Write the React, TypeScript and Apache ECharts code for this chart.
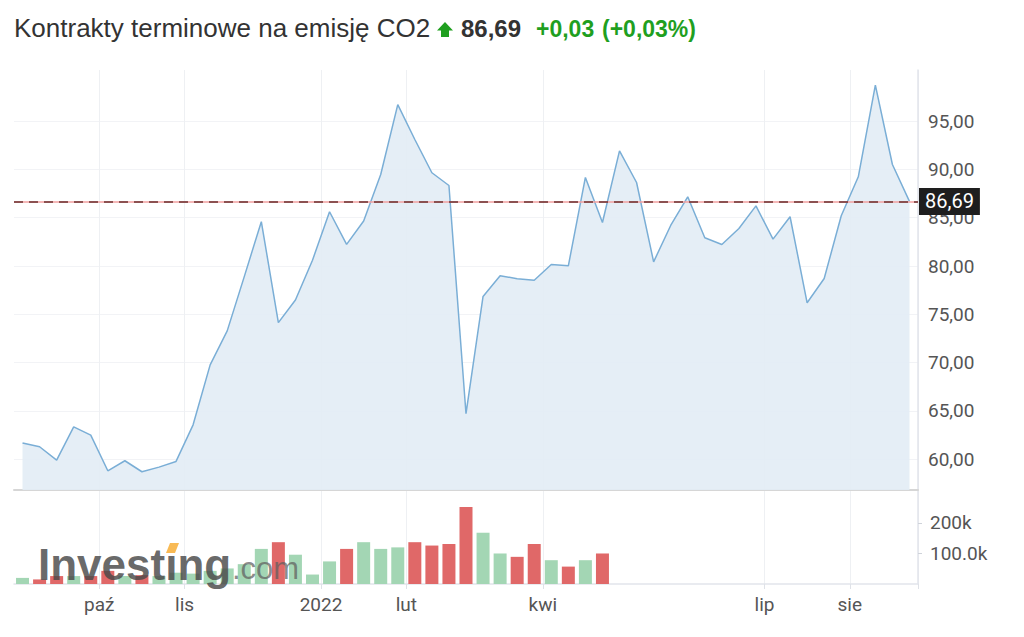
import React, { useEffect, useRef } from 'react';
import * as echarts from 'echarts';

const titleText = 'Kontrakty terminowe na emisję CO2';
const lastPriceText = '86,69';
const changeAbsText = '+0,03';
const changePctText = '(+0,03%)';
const lastPrice = 86.69;

const weekDates = [
  '2021-08-29', '2021-09-05', '2021-09-12', '2021-09-19', '2021-09-26',
  '2021-10-03', '2021-10-10', '2021-10-17', '2021-10-24', '2021-10-31',
  '2021-11-07', '2021-11-14', '2021-11-21', '2021-11-28',
  '2021-12-05', '2021-12-12', '2021-12-19', '2021-12-26',
  '2022-01-02', '2022-01-09', '2022-01-16', '2022-01-23', '2022-01-30',
  '2022-02-06', '2022-02-13', '2022-02-20', '2022-02-27',
  '2022-03-06', '2022-03-13', '2022-03-20', '2022-03-27',
  '2022-04-03', '2022-04-10', '2022-04-17', '2022-04-24',
  '2022-05-01', '2022-05-08', '2022-05-15', '2022-05-22', '2022-05-29',
  '2022-06-05', '2022-06-12', '2022-06-19', '2022-06-26',
  '2022-07-03', '2022-07-10', '2022-07-17', '2022-07-24', '2022-07-31',
  '2022-08-07', '2022-08-14', '2022-08-21', '2022-08-28',
];

const closePrices = [
  61.66, 61.28, 59.9, 63.34, 62.48, 58.79, 59.83, 58.69, 59.17, 59.76,
  63.55, 69.76, 73.28, 78.9, 84.59, 74.14, 76.48, 80.6, 85.62, 82.24,
  84.66, 89.48, 96.72, 93.1, 89.66, 88.34, 64.7, 76.85, 79.0, 78.68,
  78.53, 80.16, 80.02, 89.17, 84.51, 91.93, 88.65, 80.43, 84.2, 87.17,
  82.92, 82.23, 83.89, 86.23, 82.78, 85.1, 76.19, 78.71, 85.2, 89.24,
  98.73, 90.51, 86.69,
];

// volume in thousands (only the first 35 weeks carry volume)
const volumeK = [
  20, 15, 26, 26, 26, 43, 26, 29, 26, 37, 34, 43, 51, 65, 115, 137, 96, 31,
  74, 115, 137, 115, 120, 137, 126, 131, 252, 168, 100, 89, 131, 78, 57, 78, 100,
];
const volumeUp = [
  1, 0, 0, 1, 0, 0, 1, 0, 1, 1, 1, 1, 1, 1, 1, 0, 1, 1, 1, 0, 1, 1, 1, 0, 0,
  0, 0, 1, 1, 0, 0, 1, 0, 1, 0,
];

const monthStarts = ['2021-10-01', '2021-11-01', '2022-01-01', '2022-02-01', '2022-04-01', '2022-07-01', '2022-08-01'];
const monthLabels = ['paź', 'lis', '2022', 'lut', 'kwi', 'lip', 'sie'];
const priceTicks = [60, 65, 70, 75, 80, 85, 90, 95];
const volumeTicks = [100000, 200000];
const volumeTickLabels = ['100.0k', '200k'];

// index of the first week of each labelled month; its left band edge carries the tick
const monthStartIdx = monthStarts.map((m) => weekDates.findIndex((d) => d >= m));

const GREEN = '#1f9f1f';
const UP_BAR = '#a3d6b4';
const DOWN_BAR = '#e06868';
const AXIS_FONT = 'Roboto';
const AXIS_SIZE = 19;
const TITLE_FONT = '"Liberation Sans", Arial';
const GRID_LINE = '#eef0f3';

export default function App() {
  const ref = useRef<HTMLDivElement>(null);
  useEffect(() => {
    if (!ref.current) return;
    const chart = echarts.init(ref.current, null, { renderer: 'svg' });
    const fmtPrice = (v: number) => v.toFixed(2).replace('.', ',');
    const isMonthEdge = (index: number) => monthStartIdx.indexOf(index) >= 0;
    const option: any = {
      animation: false,
      backgroundColor: '#ffffff',
      grid: [
        { left: 14, right: 106, top: 70, height: 420 },
        { left: 14, right: 106, top: 490, height: 94 },
      ],
      xAxis: [
        {
          type: 'category', gridIndex: 0, data: weekDates, boundaryGap: true,
          axisLine: { show: true, onZero: false, lineStyle: { color: '#d6d6d6', width: 2 } },
          axisTick: { show: false },
          axisLabel: { show: false },
          splitLine: { show: true, interval: isMonthEdge, lineStyle: { color: GRID_LINE, width: 1 } },
        },
        {
          type: 'category', gridIndex: 1, data: weekDates, boundaryGap: true,
          axisLine: { show: true, onZero: false, lineStyle: { color: '#e2e5eb', width: 1.5 } },
          axisTick: { show: true, length: 5, interval: isMonthEdge, lineStyle: { color: '#dfe2e8' } },
          axisLabel: {
            interval: isMonthEdge,
            formatter: (_v: string, index: number) => {
              const k = monthStartIdx.indexOf(index);
              return k >= 0 ? monthLabels[k] : '';
            },
            padding: [0, 17, 0, 0],
            color: '#555', fontSize: AXIS_SIZE, fontFamily: AXIS_FONT, margin: 11,
          },
          splitLine: { show: true, interval: isMonthEdge, lineStyle: { color: GRID_LINE, width: 1 } },
        },
      ],
      yAxis: [
        {
          type: 'value', gridIndex: 0, position: 'right', min: 56.8, max: 100.3,
          axisLine: { show: true, onZero: false, lineStyle: { color: '#e2e5eb', width: 1.5 } },
          axisTick: { show: false, customValues: priceTicks },
          axisLabel: {
            customValues: priceTicks, formatter: fmtPrice,
            color: '#555', fontSize: AXIS_SIZE, fontFamily: AXIS_FONT, margin: 10,
          },
          splitLine: { show: true, lineStyle: { color: '#f2f3f6', width: 1 } },
        },
        {
          type: 'value', gridIndex: 1, position: 'right', min: 0, max: 308000,
          axisLine: { show: true, onZero: false, lineStyle: { color: '#e2e5eb', width: 1.5 } },
          axisTick: { show: true, length: 4, lineStyle: { color: '#cfd3da' }, customValues: volumeTicks },
          axisLabel: {
            customValues: volumeTicks,
            formatter: (v: number) => volumeTickLabels[volumeTicks.indexOf(v)] || '',
            color: '#555', fontSize: AXIS_SIZE, fontFamily: AXIS_FONT, margin: 12,
          },
          splitLine: { show: false },
        },
      ],
      series: [
        {
          type: 'line', xAxisIndex: 0, yAxisIndex: 0,
          data: closePrices,
          symbol: 'none',
          lineStyle: { color: '#7aaed6', width: 1.5 },
          areaStyle: { color: '#e3edf5', opacity: 0.92 },
          z: 2,
          markLine: {
            silent: true, symbol: 'none', animation: false,
            data: [
              { yAxis: lastPrice, lineStyle: { color: '#f2a0a0', type: 'solid', width: 1.5 }, label: { show: false } },
              {
                yAxis: lastPrice,
                lineStyle: { color: '#6a2f2f', type: [9, 6], width: 1.5 },
                label: {
                  show: true, position: 'end', distance: 1,
                  formatter: () => lastPriceText,
                  backgroundColor: '#1e1e1e', color: '#ffffff',
                  fontSize: 20, fontFamily: AXIS_FONT, padding: [4, 6, 3, 6],
                },
              },
            ],
          },
        },
        {
          type: 'bar', xAxisIndex: 1, yAxisIndex: 1, barWidth: 13,
          data: volumeK.map((v, i) => ({
            value: v * 1000,
            itemStyle: { color: volumeUp[i] ? UP_BAR : DOWN_BAR },
          })),
        },
      ],
      graphic: [
        {
          type: 'text', left: 14, top: 15, z: 10,
          style: { text: titleText, fontSize: 26, fontFamily: TITLE_FONT, fill: '#333333' },
        },
        {
          type: 'polygon', z: 10,
          shape: { points: [[445, 22], [453, 30.5], [449, 30.5], [449, 37], [441, 37], [441, 30.5], [437, 30.5]] },
          style: { fill: GREEN },
        },
        {
          type: 'text', left: 461, top: 16, z: 10,
          style: { text: lastPriceText, fontSize: 24, fontWeight: 'bold', fontFamily: TITLE_FONT, fill: '#333333' },
        },
        {
          type: 'text', left: 536, top: 17, z: 10,
          style: { text: changeAbsText, fontSize: 23, fontWeight: 'bold', fontFamily: TITLE_FONT, fill: GREEN },
        },
        {
          type: 'text', left: 602, top: 17, z: 10,
          style: { text: changePctText, fontSize: 23, fontWeight: 'bold', fontFamily: TITLE_FONT, fill: GREEN },
        },
        {
          type: 'text', x: 38, y: 564, z: 20, silent: true,
          style: {
            text: 'Investıng', fontSize: 44, fontWeight: 'bold', fontFamily: TITLE_FONT,
            fill: 'rgba(72,72,72,0.82)', verticalAlign: 'middle',
          },
        },
        {
          type: 'polygon', z: 21, silent: true,
          shape: { points: [[166, 553], [175, 553], [179, 543], [170, 543]] },
          style: { fill: 'rgba(247,178,66,0.9)' },
        },
        {
          type: 'text', x: 232, y: 568, z: 20, silent: true,
          style: {
            text: '.com', fontSize: 31, fontFamily: TITLE_FONT,
            fill: 'rgba(95,95,95,0.72)', verticalAlign: 'middle',
          },
        },
      ],
    };
    chart.setOption(option);
    return () => chart.dispose();
  }, []);
  return (
    <div
      ref={ref}
      style={{ position: 'absolute', left: 0, top: 0, width: 1024, height: 637 }}
    />
  );
}
